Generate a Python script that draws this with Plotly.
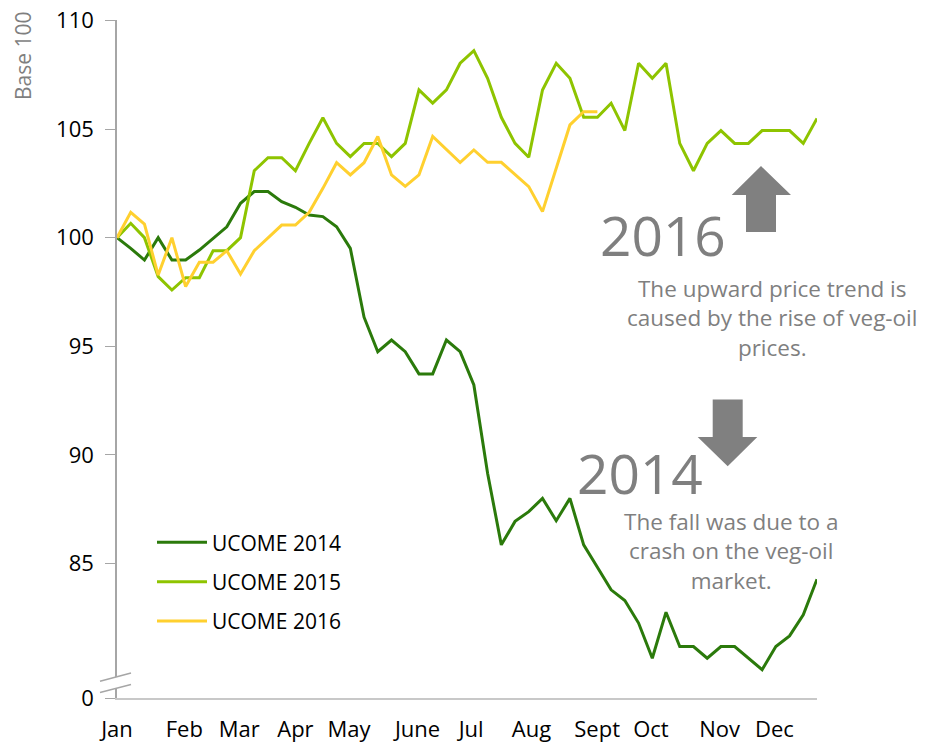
import plotly.graph_objects as go

# ---------------- data ----------------
weeks = list(range(52))

ucome_2014 = [100.0, 99.51, 98.97, 100.0, 98.97, 98.97, 99.43, 99.97, 100.5, 101.58,
              102.12, 102.12, 101.66, 101.40, 101.04, 100.97, 100.5, 99.51, 96.34, 94.75,
              95.29, 94.75, 93.73, 93.73, 95.29, 94.75, 93.22, 89.16, 85.86, 86.94,
              87.39, 88.0, 86.97, 88.0, 85.86, 84.83, 83.79, 83.30, 82.26, 80.64,
              82.76, 81.18, 81.18, 80.64, 81.18, 81.18, 80.64, 80.11, 81.18, 81.67,
              82.64, 84.28]

ucome_2015 = [100.0, 100.66, 100.0, 98.21, 97.59, 98.16, 98.16, 99.40, 99.40, 100.0,
              103.08, 103.68, 103.68, 103.08, 104.34, 105.52, 104.34, 103.73, 104.34, 104.34,
              103.73, 104.34, 106.8, 106.19, 106.8, 108.03, 108.61, 107.34, 105.54, 104.34,
              103.70, 106.8, 108.03, 107.34, 105.54, 105.54, 106.19, 104.93, 108.03, 107.34,
              108.03, 104.34, 103.08, 104.34, 104.93, 104.34, 104.34, 104.93, 104.93, 104.93,
              104.34, 105.49]

ucome_2016 = [100.0, 101.17, 100.62, 98.28, 100.0, 97.75, 98.87, 98.87, 99.40, 98.33,
              99.40, 100.0, 100.58, 100.58, 101.17, 102.27, 103.45, 102.89, 103.45, 104.66,
              102.89, 102.36, 102.89, 104.66, 104.04, 103.46, 104.04, 103.47, 103.47, 102.92,
              102.35, 101.20, 103.19, 105.19, 105.80, 105.80]

month_labels = ["Jan", "Feb", "Mar", "Apr", "May", "June", "Jul", "Aug",
                "Sept", "Oct", "Nov", "Dec"]
month_pos = [0, 4.9, 8.9, 13.0, 16.9, 21.9, 25.8, 30.2, 34.98, 38.9, 43.9, 47.9]

y_min = 78.81   # bottom of the (broken) axis, labelled "0"
y_max = 110.0
y_tick_vals = [y_min, 85, 90, 95, 100, 105, 110]
y_tick_text = ["0", "85", "90", "95", "100", "105", "110"]

series_names = ["UCOME 2014", "UCOME 2015", "UCOME 2016"]
series_colors = ["#2B7A0B", "#8EC400", "#FFD02F"]

# ---------------- layout geometry ----------------
W, H = 926, 744
ML, MT = 117, 20
PW = 700
PH = 677.7
MR = W - ML - PW
MB = H - MT - PH


def px(x):
    return (x - ML) / PW


def py(y):
    return (MT + PH - y) / PH


fig = go.Figure()
for name, vals, col in zip(series_names, [ucome_2014, ucome_2015, ucome_2016], series_colors):
    fig.add_trace(go.Scatter(
        x=weeks[:len(vals)], y=vals, mode="lines", name=name,
        legendgroup=name,
        line=dict(color=col, width=3),
    ))

font_family = "Open Sans, Arial, sans-serif"
grey = "#7F7F7F"


def note(text, x, y, size, **kw):
    return dict(text=text, x=px(x), y=py(y), xref="paper", yref="paper",
                xanchor="center", yanchor="middle", showarrow=False, align="center",
                font=dict(size=size, color=grey, family=font_family), **kw)


annotations = [
    note("Base 100", 23, 56, 21, textangle=-90),
    note("2016", 663, 234, 55),
    note("The upward price trend is<br>caused by the rise of veg-oil<br>prices.", 772, 318, 22.5),
    note("2014", 640, 472, 55),
    note("The fall was due to a<br>crash on the veg-oil<br>market.", 731, 551, 22.5),
]


def path(points):
    return "M " + " L ".join(f"{px(a):.5f},{py(b):.5f}" for a, b in points) + " Z"


up_arrow = [(761, 166), (791, 195), (776, 195), (776, 232), (746, 232), (746, 195), (731.7, 195)]
down_arrow = [(712.7, 399.3), (742.7, 399.3), (742.7, 436.7), (757.3, 436.7), (727.7, 466),
              (697.7, 436.7), (712.7, 436.7)]

shapes = [
    dict(type="path", path=path(up_arrow), xref="paper", yref="paper",
         fillcolor="#808080", line=dict(width=0)),
    dict(type="path", path=path(down_arrow), xref="paper", yref="paper",
         fillcolor="#808080", line=dict(width=0)),
    # axis break
    dict(type="path", path=path([(100, 681), (131, 672.7), (131, 684.3), (100, 692.3)]),
         xref="paper", yref="paper", fillcolor="white", line=dict(width=0)),
    dict(type="line", x0=px(100), y0=py(681), x1=px(131), y1=py(672.7),
         xref="paper", yref="paper", line=dict(color="#A6A6A6", width=1.5)),
    dict(type="line", x0=px(100), y0=py(692.3), x1=px(131), y1=py(684.3),
         xref="paper", yref="paper", line=dict(color="#A6A6A6", width=1.5)),
]

fig.update_layout(
    width=W, height=H,
    margin=dict(l=ML, r=MR, t=MT, b=MB, pad=0, autoexpand=False),
    paper_bgcolor="white", plot_bgcolor="white",
    font=dict(family=font_family, color="#000000"),
    showlegend=True,
    legend=dict(x=px(152), y=py(522), xanchor="left", yanchor="top",
                font=dict(size=21, color="#000000", family=font_family),
                bgcolor="rgba(0,0,0,0)", itemwidth=50, tracegroupgap=9,
                traceorder="grouped"),
    xaxis=dict(range=[0, 51], tickmode="array", tickvals=month_pos, ticktext=month_labels,
               showgrid=False, zeroline=False, showline=True, linecolor="#C8C8C8",
               linewidth=1.5, ticks="", tickfont=dict(size=22), ticklabelstandoff=11,
               automargin=False, ticklabeloverflow="allow"),
    yaxis=dict(range=[y_min, y_max + 0.02], tickmode="array", tickvals=y_tick_vals,
               ticktext=y_tick_text,
               showgrid=False, zeroline=False, showline=True, linecolor="#A6A6A6",
               linewidth=1.5, ticks="outside", ticklen=10, tickcolor="#A6A6A6",
               tickfont=dict(size=22), ticklabelstandoff=7, automargin=False,
               ticklabeloverflow="allow"),
    annotations=annotations,
    shapes=shapes,
)

fig.write_html("out.html", config={"displayModeBar": False},
               post_script="document.body.style.margin='0';document.body.style.overflow='hidden';")
